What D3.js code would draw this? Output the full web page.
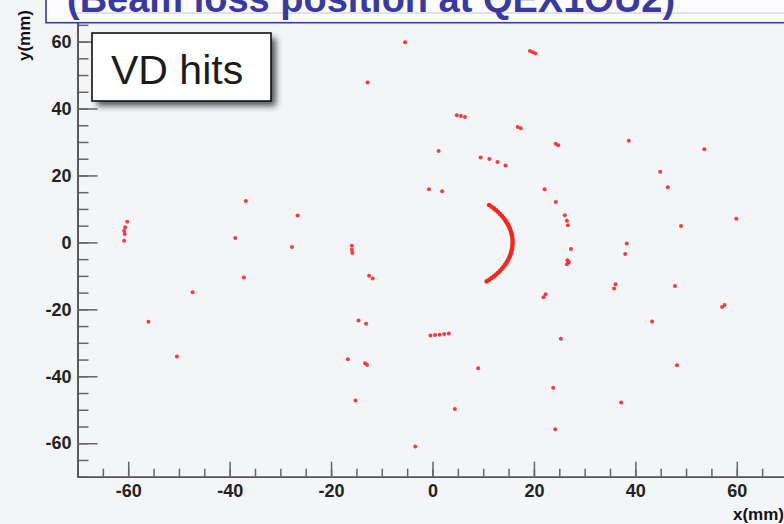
<!DOCTYPE html>
<html>
<head>
<meta charset="utf-8">
<script src="https://cdn.jsdelivr.net/npm/d3@7"></script>
<style>
  html, body { margin: 0; padding: 0; background: #f4f5f7; }
  svg { display: block; }
  text { font-family: "Liberation Sans", Arial, Helvetica, sans-serif; }
</style>
</head>
<body>
<svg id="chart" width="784" height="524"></svg>
<script>
// ---- data (mm) ----
const titleText = "(Beam loss position at QEX1OU2)";
const legendText = "VD hits";
const xAxisTitle = "x(mm)";
const yAxisTitle = "y(mm)";
const xDomain = [-70, 70];
const yDomain = [-70, 70];
const majorTicks = [-60, -40, -20, 0, 20, 40, 60];
const minorTicks = [-70,-65,-60,-55,-50,-45,-40,-35,-30,-25,-20,-15,-10,-5,0,5,10,15,20,25,30,35,40,45,50,55,60,65,70];

// scattered hits
const hitX = [
  -5.4, 19.2, 19.8, 20.3, -12.8, 4.8, 5.6, 6.4, 16.8, 17.4, 24.3, 24.8,
  1.2, 9.5, 11.2, 12.8, 14.4, -0.7, 1.9, 22.1, 24.3, 38.7, 53.6, 44.9, 46.4,
  26.1, 26.5, 26.7, 59.9, 49.0, 38.3, 38.0, 27.3, 26.6, 26.9, 26.5,
  -60.2, -60.6, -60.8, -60.7, -60.8, -36.8, -26.6, -38.9, -27.7,
  -15.9, -15.9, -15.8, -12.5, -11.8, -37.2, 22.3, 21.9, 36.1, 35.8, 47.8, 57.6, 57.1,
  -47.3, -56.0, -14.6, -13.1, 43.3, 25.3, -0.4, 0.5, 1.4, 2.3, 3.2,
  -50.4, -16.7, -13.3, -12.9, 9.0, 48.2, -15.2, 23.8, 37.2, 4.4, 24.2, -3.4
];
const hitY = [
  59.8, 57.2, 56.8, 56.4, 47.8, 38.0, 37.8, 37.5, 34.5, 34.1, 29.5, 29.0,
  27.3, 25.4, 24.9, 24.0, 23.0, 15.9, 15.3, 15.9, 12.1, 30.4, 27.8, 21.1, 16.5,
  8.1, 6.5, 5.1, 7.1, 4.9, -0.3, -3.5, -2.0, -5.3, -5.9, -6.5,
  6.2, 4.5, 3.5, 2.5, 0.5, 12.4, 8.0, 1.3, -1.4,
  -1.0, -2.2, -3.2, -10.0, -10.8, -10.5, -15.5, -16.4, -12.5, -13.8, -13.0, -18.7, -19.3,
  -14.9, -23.7, -23.3, -24.3, -23.6, -28.8, -27.8, -27.7, -27.6, -27.4, -27.2,
  -34.1, -34.9, -36.1, -36.6, -37.6, -36.7, -47.2, -43.4, -47.8, -49.8, -55.8, -61.0
];

// dense arc of hits right of the origin
const arcX = [
  11.17, 11.65, 12.10, 12.54, 12.94, 13.33, 13.68, 14.01, 14.32, 14.60, 14.85, 15.07,
  15.26, 15.43, 15.56, 15.66, 15.74, 15.78, 15.80, 15.78, 15.74, 15.66, 15.56, 15.43,
  15.26, 15.07, 14.85, 14.60, 14.32, 14.01, 13.68, 13.33, 12.94, 12.54, 12.10, 11.65,
  11.17, 10.67
];
const arcY = [
  11.17, 10.67, 10.16, 9.62, 9.06, 8.49, 7.90, 7.30, 6.68, 6.05, 5.40, 4.75,
  4.09, 3.42, 2.74, 2.06, 1.38, 0.69, 0.00, -0.69, -1.38, -2.06, -2.74, -3.42,
  -4.09, -4.75, -5.40, -6.05, -6.68, -7.30, -7.90, -8.49, -9.06, -9.62, -10.16, -10.67,
  -11.17, -11.65
];

// ---- drawing ----
const svg = d3.select("#chart");
const defs = svg.append("defs");
const blur = defs.append("filter").attr("id", "shadowBlur")
  .attr("x", "-20%").attr("y", "-20%").attr("width", "140%").attr("height", "140%");
blur.append("feGaussianBlur").attr("stdDeviation", 3);

const x = d3.scaleLinear().domain(xDomain).range([77.5, 787.5]);
const y = d3.scaleLinear().domain(yDomain).range([476.7, 8.1]);

const plot = svg.append("g");

// minor ticks
const xMinor = d3.axisBottom(x).tickValues(minorTicks).tickSizeInner(-8).tickSizeOuter(0).tickFormat("");
const yMinor = d3.axisLeft(y).tickValues(minorTicks).tickSizeInner(-11).tickSizeOuter(0).tickFormat("");
// major ticks with labels
const xMajor = d3.axisBottom(x).tickValues(majorTicks).tickSizeInner(-15).tickSizeOuter(0).tickPadding(7).tickFormat(d => String(d));
const yMajor = d3.axisLeft(y).tickValues(majorTicks).tickSizeInner(-20).tickSizeOuter(0).tickPadding(6).tickFormat(d => String(d));

function styleAxis(g) {
  g.select(".domain").attr("stroke", "#555").attr("stroke-width", 1.6);
  g.selectAll(".tick line").attr("stroke", "#666").attr("stroke-width", 1.5);
  g.selectAll(".tick text").attr("fill", "#222").attr("font-size", 18).attr("font-weight", "bold");
}
const gxm = plot.append("g").attr("transform", `translate(0,${y(-70)})`).call(xMinor); styleAxis(gxm);
const gym = plot.append("g").attr("transform", `translate(${x(-70)},0)`).call(yMinor); styleAxis(gym);
const gx = plot.append("g").attr("transform", `translate(0,${y(-70)})`).call(xMajor); styleAxis(gx);
const gy = plot.append("g").attr("transform", `translate(${x(-70)},0)`).call(yMajor); styleAxis(gy);
gx.selectAll(".tick text").attr("dy", "0.72em");

// axis titles
svg.append("text").attr("x", 784).attr("y", 520).attr("text-anchor", "end")
  .attr("font-size", 17).attr("font-weight", "bold").attr("fill", "#111").text(xAxisTitle);
svg.append("text").attr("transform", "translate(30,10) rotate(-90)").attr("text-anchor", "end")
  .attr("font-size", 17).attr("font-weight", "bold").attr("fill", "#111").text(yAxisTitle);

// hits
const hits = hitX.map((v, i) => ({ x: v, y: hitY[i] }));
const arc = arcX.map((v, i) => ({ x: v, y: arcY[i] }));
plot.append("g").selectAll("circle.hit").data(hits).join("circle")
  .attr("class", "hit").attr("cx", d => x(d.x)).attr("cy", d => y(d.y))
  .attr("r", 2).attr("fill", "#f3282a").attr("opacity", 0.9);
plot.append("g").selectAll("circle.arc").data(arc).join("circle")
  .attr("class", "arc").attr("cx", d => x(d.x)).attr("cy", d => y(d.y))
  .attr("r", 2.3).attr("fill", "#ee2a22");

// legend box with shadow
const lg = svg.append("g");
lg.append("rect").attr("x", 97).attr("y", 38).attr("width", 179).attr("height", 68)
  .attr("fill", "#222").attr("opacity", 0.75).attr("filter", "url(#shadowBlur)");
lg.append("rect").attr("x", 92).attr("y", 33).attr("width", 179).attr("height", 68)
  .attr("fill", "#ffffff").attr("stroke", "#111").attr("stroke-width", 1.6);
lg.append("text").attr("x", 111).attr("y", 84).attr("font-size", 41).attr("fill", "#1c1c1c").text(legendText);

// title box (mostly cut off at top, as in the reference)
const tg = svg.append("g");
tg.append("rect").attr("x", 46).attr("y", -30).attr("width", 800).attr("height", 52.7)
  .attr("fill", "#fcfcfe").attr("stroke", "#3a3c9c").attr("stroke-width", 1.6);
tg.append("line").attr("x1", 77).attr("x2", 784).attr("y1", 13).attr("y2", 13)
  .attr("stroke", "#c8c8cc").attr("stroke-width", 1);
tg.append("text").attr("x", 67).attr("y", 11.5).attr("font-size", 38).attr("font-weight", "bold")
  .attr("fill", "#3a3a9e").text(titleText);
</script>
</body>
</html>
